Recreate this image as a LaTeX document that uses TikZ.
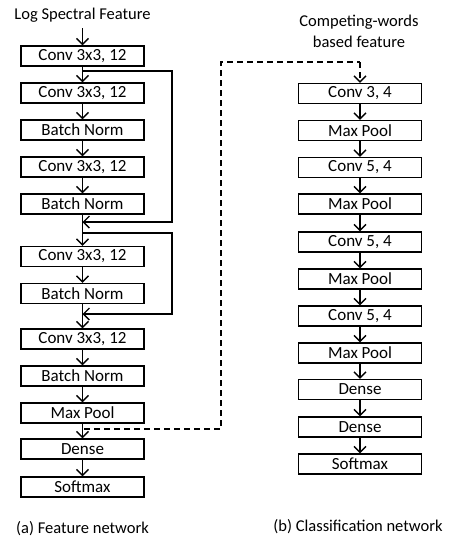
\documentclass[tikz,border=0pt]{standalone}
\usepackage{fontspec}
\setmainfont{Carlito}
\usetikzlibrary{arrows.meta}
\begin{document}
\begin{tikzpicture}[x=1pt,y=-1pt,
  layer/.style={draw=black,line width=1.5pt,minimum width=123pt,minimum height=20pt,inner sep=0pt,font=\fontsize{17}{19}\selectfont},
  lab/.style={font=\fontsize{16.5}{21}\selectfont,align=center},
  arr/.style={line width=1.4pt,-{Straight Barb[length=6pt,width=12pt,line width=1.4pt]}},
  ln/.style={line width=1.4pt},
  dsh/.style={line width=1.4pt,dash pattern=on 6pt off 4pt}]
\useasboundingbox (0,0) rectangle (455,550);
% left column
\node[lab] (tl) at (82.5,15) {Log Spectral Feature};
\coordinate (inl) at (82.5,28);
\node[layer] (a1) at (82.5,56) {Conv 3x3, 12};
\node[layer] (a2) at (82.5,93) {Conv 3x3, 12};
\node[layer] (a3) at (82.5,130) {Batch Norm};
\node[layer] (a4) at (82.5,167) {Conv 3x3, 12};
\node[layer] (a5) at (82.5,204) {Batch Norm};
\node[layer] (a6) at (82.5,256.5) {Conv 3x3, 12};
\node[layer] (a7) at (82.5,293.5) {Batch Norm};
\node[layer] (a8) at (82.5,339) {Conv 3x3, 12};
\node[layer] (a9) at (82.5,376) {Batch Norm};
\node[layer] (a10) at (82.5,413) {Max Pool};
\node[layer] (a11) at (82.5,449) {Dense};
\node[layer] (a12) at (82.5,487) {Softmax};
\node[lab] (cap1) at (82.5,529) {(a) Feature network};
\draw[arr] (inl) -- (a1);
\foreach \i/\j in {a1/a2,a2/a3,a3/a4,a4/a5,a5/a6,a6/a7,a7/a8,a8/a9,a9/a10,a10/a11,a11/a12}
  \draw[arr] (\i) -- (\j);
% skip connections
\coordinate (s1a) at (82.5,71);
\coordinate (s1c) at (172,71);
\coordinate (s1d) at (172,222);
\coordinate (s1b) at (82.5,222);
\draw[arr] (s1a) -- (s1c) -- (s1d) -- (s1b);
\coordinate (s2a) at (82.5,233);
\coordinate (s2c) at (172,233);
\coordinate (s2d) at (172,314);
\coordinate (s2b) at (82.5,314);
\draw[arr] (s2a) -- (s2c) -- (s2d) -- (s2b);
% right column
\node[lab] (tr) at (359,31) {Competing-words\\based feature};
\node[layer] (b1) at (360,93.5) {Conv 3, 4};
\node[layer] (b2) at (360,130.5) {Max Pool};
\node[layer] (b3) at (360,167.5) {Conv 5, 4};
\node[layer] (b4) at (360,204) {Max Pool};
\node[layer] (b5) at (360,242) {Conv 5, 4};
\node[layer] (b6) at (360,279) {Max Pool};
\node[layer] (b7) at (360,316) {Conv 5, 4};
\node[layer] (b8) at (360,353) {Max Pool};
\node[layer] (b9) at (360,389.5) {Dense};
\node[layer] (b10) at (360,427) {Dense};
\node[layer] (b11) at (360,464) {Softmax};
\node[lab] (cap2) at (358,527) {(b) Classification network};
\foreach \i/\j in {b1/b2,b2/b3,b3/b4,b4/b5,b5/b6,b6/b7,b7/b8,b8/b9,b9/b10,b10/b11}
  \draw[arr] (\i) -- (\j);
% dashed link
\coordinate (d0) at (84,429);
\coordinate (d1) at (221,429);
\coordinate (d2) at (221,62);
\coordinate (d3) at (360,62);
\draw[dsh] (d0) -- (d1) -- (d2) -- (d3);
\draw[arr,dash pattern=on 6pt off 4pt] (d3) -- (b1);
\end{tikzpicture}
\end{document}
